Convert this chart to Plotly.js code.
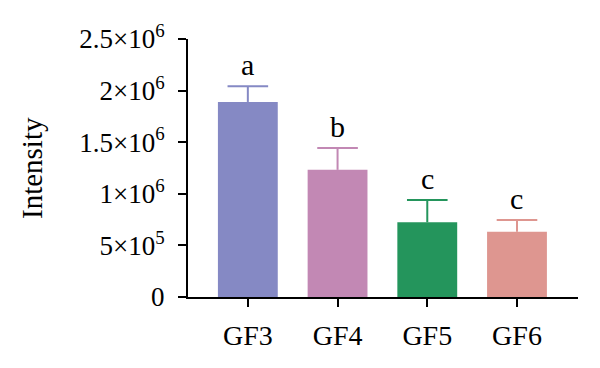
<!DOCTYPE html>
<html>
<head>
<meta charset="utf-8">
<script src="https://cdn.plot.ly/plotly-3.0.1.min.js"></script>
<style>html,body{margin:0;padding:0;background:#fff;}#chart{width:600px;height:368px;}</style>
</head>
<body>
<div id="chart"></div>
<script>
const categories = ["GF3", "GF4", "GF5", "GF6"];
const values = [1890000, 1232000, 724000, 632000];
const errors = [152000, 211000, 217000, 114000];
const letters = ["a", "b", "c", "c"];
const colors = ["#8589C4", "#C288B4", "#24955C", "#DE9690"];
const yTickVals = [0, 500000, 1000000, 1500000, 2000000, 2500000];
const yTickText = ["0", "5×10<sup>5</sup>", "1×10<sup>6</sup>", "1.5×10<sup>6</sup>", "2×10<sup>6</sup>", "2.5×10<sup>6</sup>"];

const FONT = "Liberation Serif, Times New Roman, serif";

const traces = [];
categories.forEach((c, i) => {
  traces.push({
    type: "bar",
    x: [c],
    y: [values[i]],
    width: 0.667,
    marker: {color: colors[i], line: {width: 0}},
    error_y: {
      type: "data",
      array: [errors[i]],
      arrayminus: [0],
      symmetric: false,
      visible: true,
      color: colors[i],
      thickness: 2,
      width: 0
    },
    showlegend: false,
    hoverinfo: "none"
  });
});
// error-bar caps at the top end only
traces.push({
  type: "scatter",
  mode: "markers",
  x: categories,
  y: values.map((v, i) => v + errors[i]),
  marker: {symbol: "line-ew-open", size: 29, color: colors, line: {width: 2, color: colors}},
  showlegend: false,
  hoverinfo: "none"
});

const annotations = categories.map((c, i) => ({
  x: c, y: values[i] + errors[i], xref: "x", yref: "y",
  text: letters[i], showarrow: false, yanchor: "bottom", yshift: 3,
  font: {family: FONT, size: 30, color: "#000"}
}));
annotations.push({
  xref: "paper", yref: "paper", x: (32 - 188) / 390, y: 0.5,
  text: "Intensity", textangle: -90, showarrow: false,
  xanchor: "center", yanchor: "middle",
  font: {family: FONT, size: 29, color: "#000"}
});

const layout = {
  width: 600, height: 368,
  margin: {l: 188, r: 22, t: 39, b: 71},
  paper_bgcolor: "#fff", plot_bgcolor: "#fff",
  barmode: "overlay",
  showlegend: false,
  font: {family: FONT, color: "#000"},
  xaxis: {
    type: "category",
    categoryorder: "array", categoryarray: categories,
    range: [-0.667, 3.68],
    showline: true, linecolor: "#000", linewidth: 2,
    ticks: "outside", ticklen: 8, tickwidth: 2, tickcolor: "#000",
    tickfont: {family: FONT, size: 28, color: "#000"},
    ticklabelstandoff: 4,
    showgrid: false, zeroline: false, fixedrange: true
  },
  yaxis: {
    range: [0, 2500000],
    tickvals: yTickVals, ticktext: yTickText,
    showline: true, linecolor: "#000", linewidth: 2,
    ticks: "outside", ticklen: 8, tickwidth: 2, tickcolor: "#000",
    tickfont: {family: FONT, size: 27, color: "#000"},
    ticklabelstandoff: 8,
    showgrid: false, zeroline: false, fixedrange: true
  },
  annotations: annotations
};

Plotly.newPlot("chart", traces, layout, {displayModeBar: false, staticPlot: true});
</script>
</body>
</html>
